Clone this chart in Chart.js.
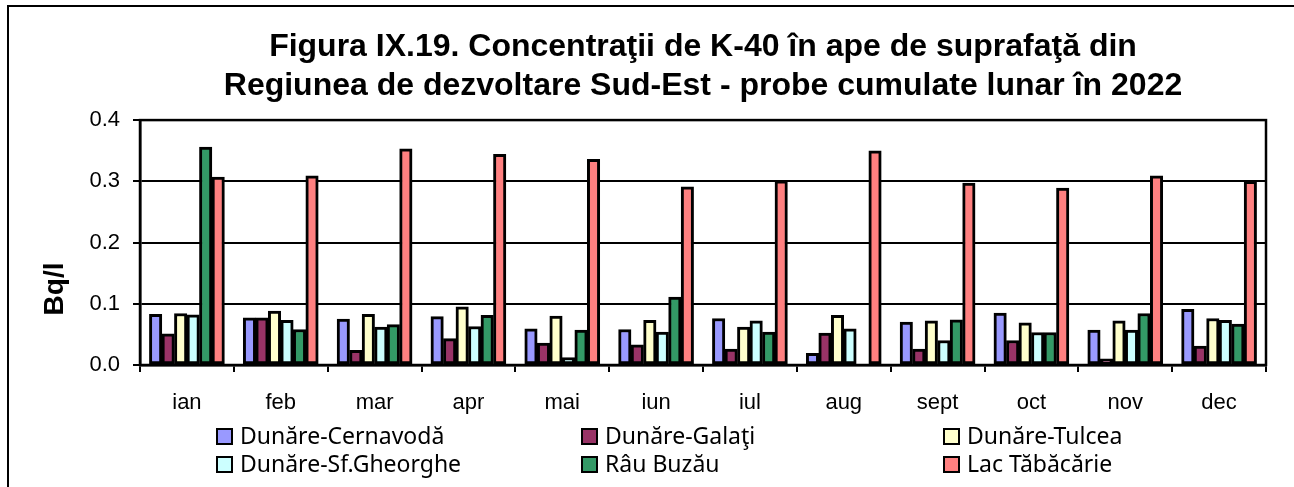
<!DOCTYPE html>
<html>
<head>
<meta charset="utf-8">
<script src="https://cdn.jsdelivr.net/npm/chart.js@4/dist/chart.umd.min.js"></script>
<style>
  html, body { margin: 0; padding: 0; background: #fff; }
  #wrap { position: relative; width: 1294px; height: 487px; overflow: hidden; }
  #frame { position: absolute; left: 7px; top: 5px; width: 1400px; height: 600px; border-left: 2px solid #000; border-top: 2px solid #000; }
  canvas { position: absolute; left: 0; top: 0; }
  .lg { position: absolute; font-family: "Noto Sans", sans-serif; font-size: 23px; color: #000; white-space: nowrap; line-height: 26px; }
  .lg .box { position: absolute; left: 0; top: 5px; width: 13px; height: 13px; border: 2px solid #000; }
  .lg .txt { position: absolute; left: 24px; top: -1px; }
</style>
</head>
<body>
<div id="wrap">
  <div id="frame"></div>
  <canvas id="c" width="1294" height="487"></canvas>
  <div id="legend"></div>
</div>
<script>
const categories = ["ian","feb","mar","apr","mai","iun","iul","aug","sept","oct","nov","dec"];
const seriesNames = ["Dunăre-Cernavodă","Dunăre-Galaţi","Dunăre-Tulcea","Dunăre-Sf.Gheorghe","Râu Buzău","Lac Tăbăcărie"];
const cernavoda  = [0.083, 0.077, 0.075, 0.079, 0.059, 0.058, 0.076, 0.019, 0.070, 0.085, 0.057, 0.091];
const galati     = [0.051, 0.077, 0.024, 0.043, 0.036, 0.033, 0.026, 0.052, 0.026, 0.040, 0.010, 0.031];
const tulcea     = [0.084, 0.088, 0.083, 0.095, 0.080, 0.073, 0.062, 0.081, 0.072, 0.069, 0.072, 0.076];
const sfGheorghe = [0.082, 0.073, 0.062, 0.063, 0.012, 0.054, 0.072, 0.059, 0.040, 0.053, 0.057, 0.073];
const buzau      = [0.356, 0.058, 0.066, 0.081, 0.057, 0.111, 0.054, null,  0.074, 0.053, 0.084, 0.067];
const tabacarie  = [0.307, 0.309, 0.353, 0.344, 0.336, 0.291, 0.301, 0.350, 0.297, 0.289, 0.309, 0.300];
const yTicks = [0.0, 0.1, 0.2, 0.3, 0.4];
const titleLines = ["Figura IX.19. Concentraţii de K-40 în ape de suprafaţă din", "Regiunea de dezvoltare Sud-Est - probe cumulate lunar în 2022"];
const yTitle = "Bq/l";

const colors = ["#9999FF", "#993366", "#FFFFCC", "#CCFFFF", "#339966", "#FF8080"];
const seriesData = [cernavoda, galati, tulcea, sfGheorghe, buzau, tabacarie];

const datasets = seriesNames.map((n, i) => ({
  label: n,
  data: seriesData[i],
  backgroundColor: colors[i],
  borderColor: "#000",
  borderWidth: 3,
  borderSkipped: false,
  inflateAmount: 0.3,
  categoryPercentage: 0.8,
  barPercentage: 1.0
}));

const framePlugin = {
  id: 'framePlugin',
  afterDraw(chart) {
    const ctx = chart.ctx, a = chart.chartArea;
    ctx.save();
    ctx.strokeStyle = '#000';
    ctx.lineWidth = 2.5;
    ctx.strokeRect(a.left, a.top, a.right - a.left, a.bottom - a.top);
    ctx.translate(55, 289);
    ctx.rotate(-Math.PI / 2);
    ctx.font = 'bold 28px "Liberation Sans", Arial, sans-serif';
    ctx.fillStyle = '#000';
    ctx.textAlign = 'center';
    ctx.textBaseline = 'middle';
    ctx.fillText(yTitle, 0, 0);
    ctx.restore();
  }
};

new Chart(document.getElementById('c'), {
  type: 'bar',
  data: { labels: categories, datasets },
  options: {
    responsive: false,
    animation: false,
    layout: { padding: { top: 0, left: 0, right: 28, bottom: 72 } },
    plugins: {
      legend: { display: false },
      tooltip: { enabled: false },
      title: {
        display: true,
        text: titleLines,
        fullSize: false,
        color: '#000',
        font: { family: '"Liberation Sans", Arial, sans-serif', size: 32, weight: 'bold', lineHeight: 1.22 },
        padding: { top: 28, bottom: 14 }
      }
    },
    scales: {
      x: {
        offset: true,
        grid: { offset: true, drawOnChartArea: false, drawTicks: true, tickLength: 7, color: '#000', lineWidth: 2 },
        border: { display: true, color: '#000', width: 2.5 },
        ticks: { color: '#000', font: { family: '"Liberation Sans", Arial, sans-serif', size: 22 }, padding: 18, maxRotation: 0, autoSkip: false },
        afterFit(s) { s.height = 50; }
      },
      y: {
        min: 0, max: 0.4,
        afterBuildTicks(s) { s.ticks = yTicks.map(v => ({ value: v })); },
        grid: { color: '#000', lineWidth: 2, drawTicks: true, tickLength: 7 },
        border: { display: true, color: '#000', width: 2.5 },
        ticks: { color: '#000', font: { family: '"Liberation Sans", Arial, sans-serif', size: 22 }, padding: 13, callback: v => Number(v).toFixed(1) },
        afterFit(s) { s.width = 140; }
      }
    }
  },
  plugins: [framePlugin]
});

const legendPos = [[216, 431], [581, 431], [943, 431], [216, 459], [581, 459], [943, 459]];
const lg = document.getElementById('legend');
datasets.forEach((d, i) => {
  const el = document.createElement('div');
  el.className = 'lg';
  el.style.left = legendPos[i][0] + 'px';
  el.style.top = (legendPos[i][1] - 8) + 'px';
  el.innerHTML = '<span class="box" style="background:' + d.backgroundColor + '"></span><span class="txt"></span>';
  el.querySelector('.txt').textContent = d.label;
  lg.appendChild(el);
});
</script>
</body>
</html>
